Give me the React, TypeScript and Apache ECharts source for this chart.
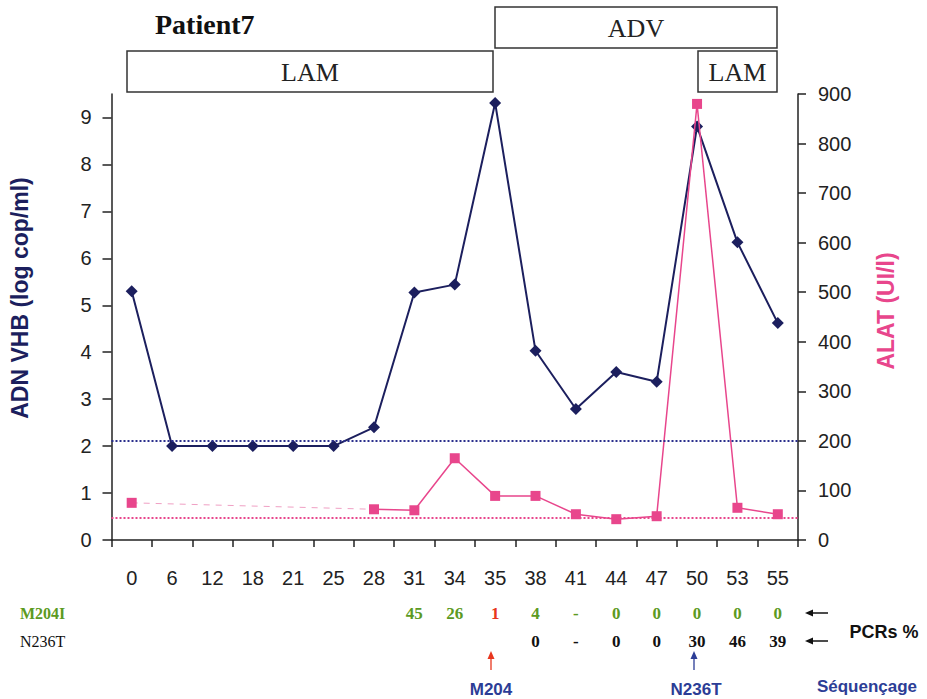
import React, { useEffect, useRef } from "react";
import * as echarts from "echarts";

const categories = ["0", "6", "12", "18", "21", "25", "28", "31", "34", "35", "38", "41", "44", "47", "50", "53", "55"];
const adnVhb = [5.3, 2.0, 2.0, 2.0, 2.0, 2.0, 2.4, 5.27, 5.44, 9.31, 4.03, 2.79, 3.58, 3.37, 8.81, 6.34, 4.62];
const alat = [75, null, null, null, null, null, 62, 60, 165, 89, 89, 52, 42, 48, 880, 65, 52];
const alatGap = [75, null, null, null, null, null, 62, null, null, null, null, null, null, null, null, null, null];
const m204i = ["", "", "", "", "", "", "", "45", "26", "1", "4", "-", "0", "0", "0", "0", "0"];
const n236t = ["", "", "", "", "", "", "", "", "", "", "0", "-", "0", "0", "30", "46", "39"];
const leftTicks = [0, 1, 2, 3, 4, 5, 6, 7, 8, 9];
const vhbCutoff = 2.12;
const alatNorm = 44;

const NAVY = "#1c1f5e";
const PINK = "#e8468c";
const GREEN = "#5c9a22";
const RED = "#e8361e";
const BLUE_TXT = "#2c3d96";

export default function App() {
  const ref = useRef<HTMLDivElement>(null);
  useEffect(() => {
    const chart = echarts.init(ref.current!, null, { renderer: "svg" });
    const serif = "Liberation Serif";
    const sans = "Liberation Sans";
    const box = (x: number, y: number, w: number, h: number, label: string) => ({
      type: "group",
      children: [
        { type: "rect", shape: { x, y, width: w, height: h }, style: { fill: "#fff", stroke: "#333", lineWidth: 1.5 } },
        { type: "text", x: x + w / 2, y: y + h / 2 + 1, style: { text: label, font: `26px "${serif}"`, fill: "#222", align: "center", verticalAlign: "middle" } },
      ],
    });
    const hArrow = (y: number) => ({
      type: "group",
      children: [
        { type: "line", shape: { x1: 811, y1: y, x2: 828, y2: y }, style: { stroke: "#111", lineWidth: 1.5 } },
        { type: "polygon", shape: { points: [[805, y], [813, y - 3.5], [813, y + 3.5]] }, style: { fill: "#111" } },
      ],
    });
    const vArrow = (x: number, color: string) => ({
      type: "group",
      children: [
        { type: "line", shape: { x1: x, y1: 657, x2: x, y2: 670 }, style: { stroke: color, lineWidth: 1.3 } },
        { type: "polygon", shape: { points: [[x, 651], [x - 3.5, 659], [x + 3.5, 659]] }, style: { fill: color } },
      ],
    });
    const tableAxis = (vals: string[], offset: number, color: string, isM: boolean) => ({
      type: "category",
      data: categories,
      position: "bottom",
      offset,
      gridIndex: 0,
      axisLine: { show: false },
      axisTick: { show: false },
      axisLabel: {
        interval: 0,
        margin: 0,
        formatter: (_v: string, i: number) => {
          const t = vals[i];
          if (!t) return "";
          if (isM && t === "1") return `{r|${t}}`;
          return `{n|${t}}`;
        },
        rich: {
          n: { color, fontFamily: serif, fontWeight: "bold", fontSize: 17 },
          r: { color: RED, fontFamily: serif, fontWeight: "bold", fontSize: 17 },
        },
      },
    });
    chart.setOption({
      animation: false,
      backgroundColor: "#fff",
      grid: { left: 111.5, right: 129, top: 94, bottom: 159 },
      xAxis: [
        {
          type: "category",
          data: categories,
          boundaryGap: true,
          axisLine: { lineStyle: { color: "#222", width: 1.5 } },
          axisTick: { show: true, length: 7, lineStyle: { color: "#222", width: 1.5 } },
          axisLabel: { interval: 0, margin: 28, color: "#222", fontFamily: sans, fontSize: 20 },
        },
        tableAxis(m204i, 65, GREEN, true),
        tableAxis(n236t, 93, "#111", false),
      ],
      yAxis: [
        {
          type: "value",
          min: 0,
          max: 9.5,
          interval: 1,
          name: "ADN VHB (log cop/ml)",
          nameLocation: "middle",
          nameGap: 80,
          nameTextStyle: { color: NAVY, fontFamily: sans, fontWeight: "bold", fontSize: 23, padding: [0, 0, 0, 38] },
          axisLine: { show: true, lineStyle: { color: "#222", width: 1.5 } },
          axisTick: { show: true, length: 9, customValues: leftTicks, lineStyle: { color: "#222", width: 1.5 } },
          axisLabel: { margin: 20, color: "#222", fontFamily: sans, fontSize: 20, customValues: leftTicks },
          splitLine: { show: false },
        },
        {
          type: "value",
          min: 0,
          max: 900,
          interval: 100,
          position: "right",
          name: "ALAT (UI/l)",
          nameLocation: "middle",
          nameGap: 76,
          nameRotate: 90,
          nameTextStyle: { color: PINK, fontFamily: sans, fontWeight: "bold", fontSize: 23, padding: [0, 0, 0, 12] },
          axisLine: { show: true, lineStyle: { color: "#222", width: 1.5 } },
          axisTick: { show: true, length: 8, lineStyle: { color: "#222", width: 1.5 } },
          axisLabel: { margin: 20, color: "#222", fontFamily: sans, fontSize: 20 },
          splitLine: { show: false },
        },
      ],
      series: [
        {
          type: "line",
          name: "ADN VHB",
          yAxisIndex: 0,
          data: adnVhb,
          symbol: "diamond",
          symbolSize: 12,
          itemStyle: { color: NAVY },
          lineStyle: { color: NAVY, width: 2 },
          markLine: {
            silent: true,
            symbol: "none",
            label: { show: false },
            lineStyle: { color: "#2a2f8c", type: "dotted", width: 2 },
            data: [{ yAxis: vhbCutoff }],
          },
          z: 3,
        },
        {
          type: "line",
          name: "ALAT gap",
          yAxisIndex: 1,
          data: alatGap,
          connectNulls: true,
          symbol: "none",
          lineStyle: { color: "#f0a0c4", width: 1, type: [6, 6] },
          z: 2,
        },
        {
          type: "line",
          name: "ALAT",
          yAxisIndex: 1,
          data: alat,
          connectNulls: false,
          symbol: "rect",
          symbolSize: 10,
          itemStyle: { color: PINK },
          lineStyle: { color: PINK, width: 1.5 },
          markLine: {
            silent: true,
            symbol: "none",
            label: { show: false },
            lineStyle: { color: PINK, type: "dotted", width: 2 },
            data: [{ yAxis: alatNorm }],
          },
          z: 4,
        },
      ],
      graphic: [
        { type: "text", x: 155, y: 24, style: { text: "Patient7", font: `bold 28px "${serif}"`, fill: "#111", verticalAlign: "middle" } },
        box(127, 51, 366, 41, "LAM"),
        box(495, 7, 282, 41, "ADV"),
        box(698, 51, 79, 41, "LAM"),
        { type: "text", x: 20, y: 613, style: { text: "M204I", font: `bold 16px "${serif}"`, fill: GREEN, verticalAlign: "middle" } },
        { type: "text", x: 20, y: 641, style: { text: "N236T", font: `16px "${serif}"`, fill: "#111", verticalAlign: "middle" } },
        hArrow(613),
        hArrow(641),
        { type: "text", x: 884, y: 632, style: { text: "PCRs %", font: `bold 18px "${sans}"`, fill: "#111", align: "center", verticalAlign: "middle" } },
        vArrow(491, RED),
        vArrow(694, BLUE_TXT),
        { type: "text", x: 491, y: 689, style: { text: "M204", font: `bold 17px "${sans}"`, fill: BLUE_TXT, align: "center", verticalAlign: "middle" } },
        { type: "text", x: 696, y: 689, style: { text: "N236T", font: `bold 17px "${sans}"`, fill: BLUE_TXT, align: "center", verticalAlign: "middle" } },
        { type: "text", x: 867, y: 686, style: { text: "Séquençage", font: `bold 17px "${sans}"`, fill: BLUE_TXT, align: "center", verticalAlign: "middle" } },
      ],
    });
    return () => chart.dispose();
  }, []);
  return <div ref={ref} style={{ position: "absolute", left: 0, top: 0, width: 927, height: 699 }} />;
}
